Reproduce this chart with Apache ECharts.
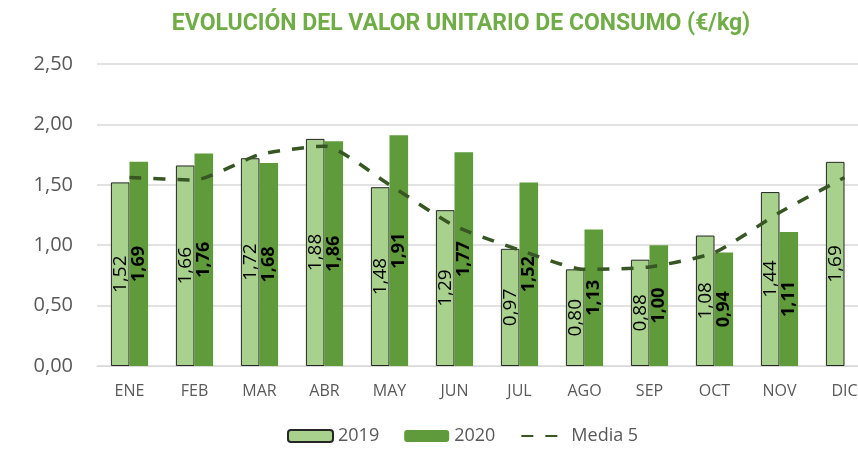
<!DOCTYPE html>
<html>
<head>
<meta charset="utf-8">
<script src="https://cdn.jsdelivr.net/npm/echarts@6/dist/echarts.min.js"></script>
<style>
  html, body { margin: 0; padding: 0; background: #fff; }
  #chart { width: 858px; height: 462px; }
</style>
</head>
<body>
<div id="chart"></div>
<script>
// meses
var months = ['ENE', 'FEB', 'MAR', 'ABR', 'MAY', 'JUN', 'JUL', 'AGO', 'SEP', 'OCT', 'NOV', 'DIC'];
var v2019 = [1.52, 1.66, 1.72, 1.88, 1.48, 1.29, 0.97, 0.80, 0.88, 1.08, 1.44, 1.69];
var v2020 = [1.69, 1.76, 1.68, 1.86, 1.91, 1.77, 1.52, 1.13, 1.00, 0.94, 1.11, null];
var media5 = [1.56, 1.54, 1.75, 1.82, 1.50, 1.16, 0.96, 0.80, 0.82, 0.94, 1.27, 1.56];
var yTicks = [0, 0.5, 1, 1.5, 2, 2.5];

function coma(v, dec) {
  return Number(v).toFixed(dec).replace('.', ',');
}

var chart = echarts.init(document.getElementById('chart'));
var option = {
  animation: false,
  title: {
    text: 'EVOLUCIÓN DEL VALOR UNITARIO DE CONSUMO (€/kg)',
    left: 456, top: 8, textAlign: 'center',
    textStyle: { color: '#70ad47', fontSize: 23, fontWeight: 'bold', fontFamily: 'Liberation Sans Narrow, Roboto, sans-serif' }
  },
  legend: {
    bottom: 12, left: 282,
    itemWidth: 45, itemHeight: 12, itemGap: 25,
    textStyle: { color: '#595959', fontSize: 18, fontFamily: 'Open Sans, sans-serif' },
    data: ['2019', '2020', { name: 'Media 5', itemStyle: { opacity: 0 } }]
  },
  grid: { left: 97, top: 64, right: -19, height: 302, containLabel: false, outerBoundsMode: 'none' },
  xAxis: {
    type: 'category', data: months,
    axisLine: { lineStyle: { color: '#d9d9d9' } },
    axisTick: { show: false },
    axisLabel: { color: '#595959', fontSize: 16, margin: 17, fontFamily: 'Open Sans, sans-serif' }
  },
  yAxis: {
    type: 'value', min: yTicks[0], max: yTicks[yTicks.length - 1], interval: 0.5,
    axisLabel: { color: '#595959', fontSize: 20, margin: 24, fontFamily: 'Open Sans, sans-serif', formatter: function (v) { return coma(v, 2); } },
    splitLine: { lineStyle: { color: '#d9d9d9', width: 1.5 } },
    axisLine: { show: false }, axisTick: { show: false }
  },
  series: [
    {
      name: '2019', type: 'bar', data: v2019, barWidth: 18.6, barGap: '0%',
      itemStyle: { color: '#a9d18e', borderColor: '#262626', borderWidth: 1 },
      label: { show: true, position: 'inside', rotate: 90, color: '#000', fontSize: 19, fontFamily: 'Open Sans, sans-serif',
        formatter: function (p) { return coma(p.value, 2); } }
    },
    {
      name: '2020', type: 'bar', data: v2020, barWidth: 18.6,
      itemStyle: { color: '#5f9b3b' },
      label: { show: true, position: 'inside', rotate: 90, color: '#000', fontSize: 18, fontWeight: 'bold', fontFamily: 'Open Sans, sans-serif',
        formatter: function (p) { return coma(p.value, 2); } }
    },
    {
      name: 'Media 5', type: 'line', data: media5, symbol: 'none', smooth: 0.2,
      lineStyle: { color: '#375623', width: 3.5, type: [12, 12] },
      itemStyle: { color: '#375623' },
      z: 5
    }
  ]
};
chart.setOption(option);
</script>
</body>
</html>
